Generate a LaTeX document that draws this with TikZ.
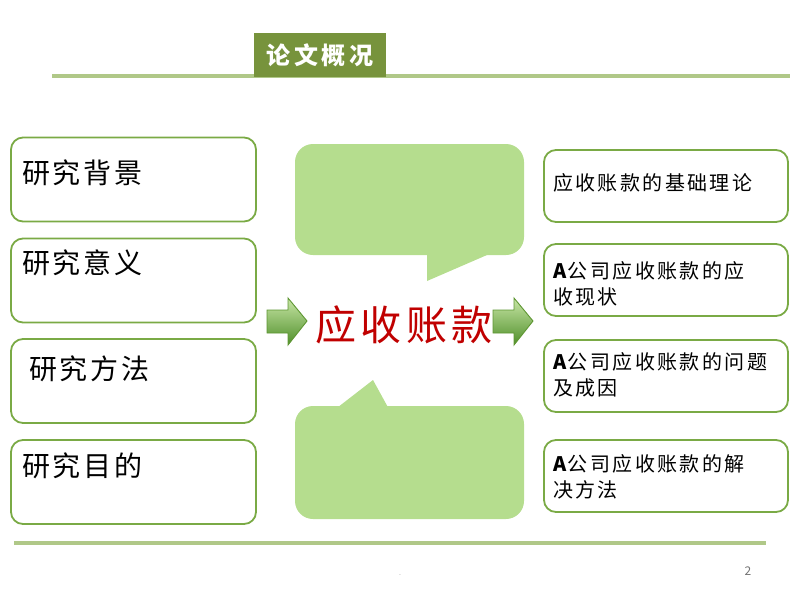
\documentclass[tikz,border=0pt]{standalone}
\usepackage{fontspec}
\setmainfont{Noto Sans CJK SC}
\newfontfamily\cjk{Noto Sans CJK SC}
\newfontfamily\cjkL[LetterSpace=10]{Noto Sans CJK SC}
\newfontfamily\cjkR[LetterSpace=12]{Noto Sans CJK SC}
\newfontfamily\cjkT[LetterSpace=14]{Noto Sans CJK SC}
\newfontfamily\cjkC[LetterSpace=10]{Noto Sans CJK SC}
\newcommand{\boldA}{{\bfseries A}\hspace{1.5pt}}
\definecolor{titlegreen}{HTML}{77933C}
\definecolor{rulegreen}{HTML}{B0C888}
\definecolor{boxgreen}{HTML}{7AAA45}
\definecolor{bubblegreen}{HTML}{B5DD8E}
\definecolor{arrowdark}{HTML}{4F8F2A}
\definecolor{arrowlight}{HTML}{C8E6A6}
\definecolor{arrowline}{HTML}{5E9632}
\definecolor{keyred}{HTML}{C00000}
\tikzset{
  lbox/.style={draw=boxgreen, line width=1.8pt, rounded corners=12pt, fill=white, minimum width=245pt, minimum height=84pt, inner sep=0pt},
  rbox/.style={draw=boxgreen, line width=1.8pt, rounded corners=12pt, fill=white, minimum width=244pt, minimum height=72pt, inner sep=0pt},
  ltext/.style={anchor=west, inner sep=0pt, font=\cjkL\fontsize{28}{30}\selectfont, text=black},
  rtext/.style={anchor=west, inner sep=0pt, align=left, font=\cjkR\fontsize{20}{26}\selectfont, text=black},
  bubble/.style={fill=bubblegreen},
  blockarrow/.style={draw=arrowline, line width=0.9pt, top color=arrowlight, bottom color=arrowdark},
  rule/.style={draw=rulegreen, line width=4pt}
}
\begin{document}
\begin{tikzpicture}[x=1pt,y=-1pt]
\useasboundingbox (0,0) rectangle (800,600);
% rules
\draw[rule] (52,76) -- (790,76);
\draw[rule] (14,543) -- (766,543);
% title
\node[fill=titlegreen, minimum width=132pt, minimum height=44pt, inner sep=0pt, text=white, font=\cjkT\bfseries\fontsize{24}{26}\selectfont] (title) at (320,55) {论文概况};
% left boxes
\node[lbox] (l1) at (133.5,179.5) {};
\node[lbox] (l2) at (133.5,280.5) {};
\node[lbox] (l3) at (133.5,381) {};
\node[lbox] (l4) at (133.5,482) {};
\node[ltext] (t1) at (22,173) {研究背景};
\node[ltext] (t2) at (22,263) {研究意义};
\node[ltext] (t3) at (29,369) {研究方法};
\node[ltext] (t4) at (22,466) {研究目的};
% bubbles
\fill[bubble, rounded corners=18pt] (295,144) rectangle (524,255);
\fill[bubble] (427,250) -- (427,281) -- (487,255) -- (487,250) -- cycle;
\fill[bubble, rounded corners=18pt] (295,406) rectangle (524,519);
\fill[bubble] (333,411) -- (373,380) -- (390,411) -- cycle;
% center text
\node[inner sep=0pt, text=keyred, font=\cjkC\fontsize{41}{44}\selectfont] (key) at (404,325) {应收账款};
% arrows
\path[blockarrow] (267,310) -- (288,310) -- (288,298) -- (307,321) -- (288,345) -- (288,333) -- (267,333) -- cycle;
\path[blockarrow] (493,310) -- (514,310) -- (514,298) -- (533,321) -- (514,345) -- (514,333) -- (493,333) -- cycle;
% right boxes
\node[rbox] (r1) at (666,186) {};
\node[rbox] (r2) at (666,280) {};
\node[rbox] (r3) at (666,376) {};
\node[rbox] (r4) at (666,476) {};
\node[rtext] (s1) at (553,183) {应收账款的基础理论};
\node[rtext] (s2) at (553,284) {\boldA 公司应收账款的应\\收现状};
\node[rtext] (s3) at (553,375) {\boldA 公司应收账款的问题\\及成因};
\node[rtext] (s4) at (553,477) {\boldA 公司应收账款的解\\决方法};
% footer
\node[inner sep=0pt, text=black!45, font=\cjk\fontsize{7}{8}\selectfont] (dot) at (400,575) {.};
\node[inner sep=0pt, text=black!55, font=\cjk\fontsize{12}{14}\selectfont] (pg) at (748,571) {2};
\end{tikzpicture}
\end{document}
